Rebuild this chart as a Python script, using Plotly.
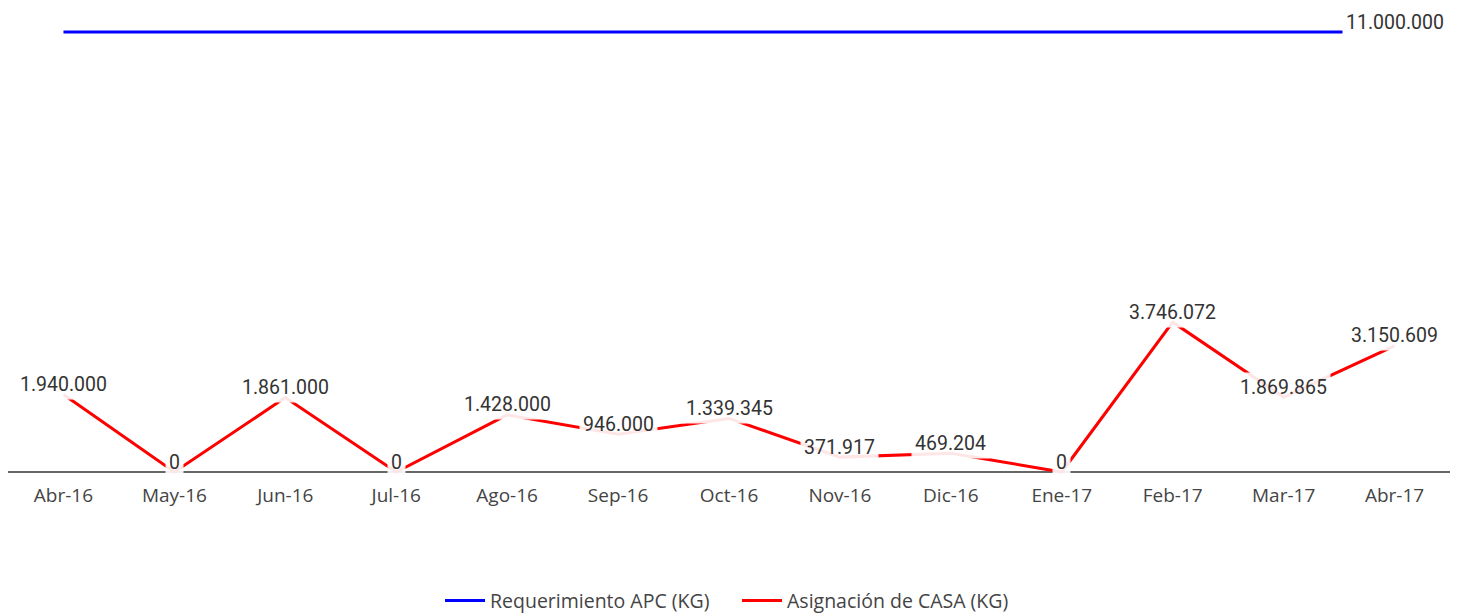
import plotly.graph_objects as go

months = ["Abr-16", "May-16", "Jun-16", "Jul-16", "Ago-16", "Sep-16", "Oct-16",
          "Nov-16", "Dic-16", "Ene-17", "Feb-17", "Mar-17", "Abr-17"]
requerimiento = [11000000] * 13
asignacion = [1940000, 0, 1861000, 0, 1428000, 946000, 1339345,
              371917, 469204, 0, 3746072, 1869865, 3150609]

def fmt(v):
    return f"{v:,}".replace(",", ".")

fig = go.Figure()
fig.add_trace(go.Scatter(x=months, y=requerimiento, mode="lines",
                         name="Requerimiento APC (KG)",
                         line=dict(color="#0000ff", width=3)))
fig.add_trace(go.Scatter(x=months, y=asignacion, mode="lines",
                         name="Asignación de CASA (KG)",
                         line=dict(color="#ff0000", width=3)))

label_font = dict(family="Roboto, sans-serif", size=19.5, color="#333")
annotations = []
for m, v in zip(months, asignacion):
    annotations.append(dict(x=m, y=v, text=fmt(v), showarrow=False, yshift=10,
                            bgcolor="rgba(255,255,255,0.9)", font=label_font,
                            borderpad=3))
annotations.append(dict(x=months[-1], y=requerimiento[-1], text=fmt(requerimiento[-1]),
                        showarrow=False, yshift=10, bgcolor="white",
                        font=label_font, borderpad=3))

fig.update_layout(
    width=1456, height=608,
    margin=dict(l=0, r=14, t=16, b=136),
    plot_bgcolor="white", paper_bgcolor="white",
    font=dict(family="Open Sans, sans-serif", size=19, color="#444"),
    showlegend=True,
    legend=dict(orientation="h", x=0.2996, xanchor="left", yref="container",
                y=0.025, yanchor="middle", entrywidth=242, entrywidthmode="pixels",
                itemwidth=40, font=dict(size=19.5, color="#444")),
    xaxis=dict(type="category", range=[-0.5, 12.5], showgrid=False, showline=False,
               ticks="", ticklabelstandoff=2, tickfont=dict(size=19, color="#444")),
    yaxis=dict(range=[-200000, 11200000], showgrid=False, zeroline=True,
               zerolinecolor="#666", zerolinewidth=2,
               showticklabels=False, showline=False),
    annotations=annotations,
)
fig.write_html("out.html")
